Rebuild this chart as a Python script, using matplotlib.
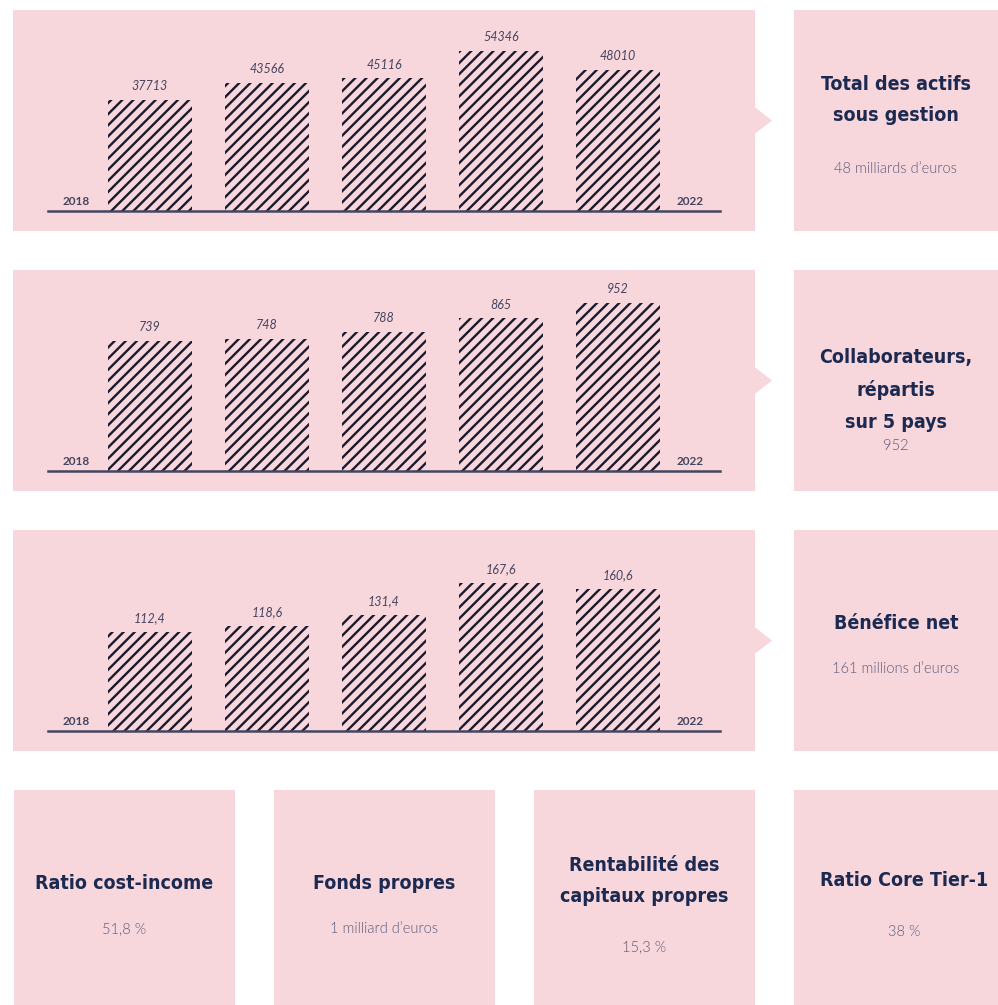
import matplotlib
matplotlib.use("Agg")
import matplotlib.pyplot as plt
from matplotlib.patches import Rectangle, Polygon

# data
years = [2018, 2019, 2020, 2021, 2022]
actifs = [37713, 43566, 45116, 54346, 48010]
collaborateurs = [739, 748, 788, 865, 952]
benefice = [112.4, 118.6, 131.4, 167.6, 160.6]

actifs_labels = ["37713", "43566", "45116", "54346", "48010"]
collab_labels = ["739", "748", "788", "865", "952"]
benef_labels = ["112,4", "118,6", "131,4", "167,6", "160,6"]

side_titles = ["Total des actifs\nsous gestion",
               "Collaborateurs,\nrépartis\nsur 5 pays",
               "Bénéfice net"]
side_values = ["48 milliards d\u2019euros", "952", "161 millions d\u2019euros"]

bottom_titles = ["Ratio cost-income", "Fonds propres",
                 "Rentabilité des\ncapitaux propres", "Ratio Core Tier-1"]
bottom_values = ["51,8 %", "1 milliard d\u2019euros", "15,3 %", "38 %"]

PINK = "#f8d7dc"
NAVY = "#1c2a52"
GREY = "#5a5a78"
LINE = "#45455f"
HATCH = "#1a1a2e"

TITLE_FONT = ["DejaVu Sans"]
LIGHT_FONT = ["Lato", "DejaVu Sans"]

plt.rcParams["hatch.linewidth"] = 1.7

W, H = 998, 1005
fig = plt.figure(figsize=(W / 100, H / 100), dpi=100)
bg = fig.add_axes([0, 0, 1, 1])
bg.set_xlim(0, W)
bg.set_ylim(H, 0)
bg.axis("off")

rows_top = [10, 270, 530]
row_h = 221
baseline_off = 201  # baseline distance from panel top
headroom = [1.256, 1.196, 1.358]

series = [(actifs, actifs_labels), (collaborateurs, collab_labels), (benefice, benef_labels)]

for i, top in enumerate(rows_top):
    # chart panel + arrow
    bg.add_patch(Rectangle((13, top), 742, row_h, color=PINK, lw=0))
    cy = top + row_h / 2
    bg.add_patch(Polygon([(754, cy - 14), (772, cy), (754, cy + 14)], closed=True, color=PINK, lw=0))
    # side panel
    bg.add_patch(Rectangle((794, top), 210, row_h, color=PINK, lw=0))

    vals, labs = series[i]
    base_y = top + baseline_off
    ax = fig.add_axes([48 / W, 1 - base_y / H, 672 / W, baseline_off / H])
    ax.set_facecolor("none")
    x = list(range(len(years)))
    ax.bar(x, vals, width=0.718, color=PINK, edgecolor=HATCH, hatch="///", linewidth=0)
    for xi, v, lab in zip(x, vals, labs):
        ax.annotate(lab, (xi, v), xytext=(0, 5.5), textcoords="offset points",
                    ha="center", va="bottom", fontsize=9, style="italic",
                    color=LINE, family=LIGHT_FONT)
    ax.set_xlim(-0.872, 4.872)
    ax.set_ylim(0, max(vals) * headroom[i])
    ax.axis("off")
    ax.axhline(0, color=LINE, lw=1.8, clip_on=False)
    ax.text(0.042, 0.02, str(years[0]), transform=ax.transAxes, ha="center", va="bottom",
            fontsize=8.5, fontweight="bold", color=LINE, family=LIGHT_FONT)
    ax.text(0.955, 0.02, str(years[-1]), transform=ax.transAxes, ha="center", va="bottom",
            fontsize=8.5, fontweight="bold", color=LINE, family=LIGHT_FONT)

# side panel texts
side_title_y = [100, 390, 623]
side_value_y = [169, 446, 669]
for t, v, ty, vy in zip(side_titles, side_values, side_title_y, side_value_y):
    bg.text(896, ty, t, ha="center", va="center", fontsize=14, fontweight="bold",
            fontstretch="condensed", color=NAVY, family=TITLE_FONT, linespacing=1.85)
    bg.text(896, vy, v, ha="center", va="center", fontsize=10.5, fontweight=300,
            color=GREY, family=LIGHT_FONT)

# bottom panels
bottom_x = [14, 274, 534, 794]
bottom_title_y = [883, 883, 881, 880]
bottom_value_y = [929, 929, 947, 932]
for bx, t, v, ty, vy in zip(bottom_x, bottom_titles, bottom_values, bottom_title_y, bottom_value_y):
    bg.add_patch(Rectangle((bx, 790), 221, 220, color=PINK, lw=0))
    cx = bx + 110.5
    bg.text(cx, ty, t, ha="center", va="center", fontsize=14, fontweight="bold",
            fontstretch="condensed", color=NAVY, family=TITLE_FONT, linespacing=1.85)
    bg.text(cx, vy, v, ha="center", va="center", fontsize=10.5, fontweight=300,
            color=GREY, family=LIGHT_FONT)

fig.savefig("out.png", dpi=100, facecolor="white")
